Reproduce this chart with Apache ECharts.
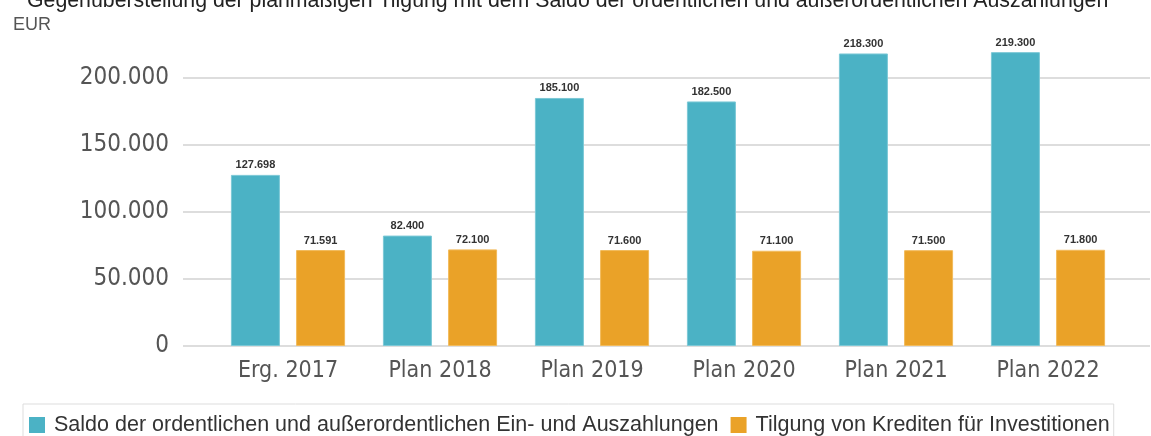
<!DOCTYPE html>
<html>
<head>
<meta charset="utf-8">
<script src="https://cdn.jsdelivr.net/npm/echarts@6/dist/echarts.min.js"></script>
<style>html,body{margin:0;padding:0;background:#fff}#c{width:1151px;height:436px}</style>
</head>
<body>
<div id="c"></div>
<script>
const categories = ['Erg. 2017', 'Plan 2018', 'Plan 2019', 'Plan 2020', 'Plan 2021', 'Plan 2022'];
const saldo = [127698, 82400, 185100, 182500, 218300, 219300];
const tilgung = [71591, 72100, 71600, 71100, 71500, 71800];
const seriesNames = ['Saldo der ordentlichen und außerordentlichen Ein- und Auszahlungen', 'Tilgung von Krediten für Investitionen'];
const titleText = 'Gegenüberstellung der planmäßigen Tilgung mit dem Saldo der ordentlichen und außerordentlichen Auszahlungen';
const unitText = 'EUR';

function de(v){ return String(v).replace(/\B(?=(\d{3})+(?!\d))/g, '.'); }

const chart = echarts.init(document.getElementById('c'), null, {renderer:'canvas'});
const TOP = 78, BOTTOM = 90;
const axisFont = "'DejaVu Sans Condensed', 'DejaVu Sans', sans-serif";
const sans = "'Liberation Sans', Arial, sans-serif";
const lbl = {show:true, position:'top', distance:4, fontSize:11, fontWeight:'bold', color:'#333', fontFamily:sans, formatter: p => de(p.value)};
chart.setOption({
  animation:false,
  color:['#4bb2c5','#eaa228'],
  title:[
    {text:titleText, left:22, top:-14, textStyle:{fontSize:21.3, fontWeight:'normal', color:'#222', fontFamily:sans}},
    {text:unitText, left:8, top:11, textStyle:{fontSize:18, fontWeight:'normal', color:'#555', fontFamily:sans}}
  ],
  legend:{
    data:seriesNames, left:23, top:404, orient:'horizontal',
    itemWidth:16, itemHeight:16, itemGap:12, icon:'rect',
    itemStyle:{borderWidth:0},
    padding:[10,4,22,6], borderColor:'#ddd', borderWidth:1,
    textStyle:{fontSize:21.5, color:'#333', fontFamily:sans, padding:[0,0,0,4]}
  },
  grid:[
    {left:183, right:1, top:TOP, bottom:BOTTOM},
    {left:212, right:27, top:TOP, bottom:BOTTOM}
  ],
  xAxis:[
    {gridIndex:0, type:'value', min:0, max:1, show:false},
    {gridIndex:1, type:'category', data:categories, axisLine:{show:false}, axisTick:{show:false},
     axisLabel:{fontSize:23, color:'#555', margin:14, fontFamily:axisFont}}
  ],
  yAxis:[
    {gridIndex:0, type:'value', min:0, max:200000, interval:50000,
     axisLine:{show:false}, axisTick:{show:false},
     splitLine:{lineStyle:{color:'#dddddd', width:2}},
     axisLabel:{fontSize:24, color:'#555', margin:14, fontFamily:axisFont, formatter:v=>de(v)}},
    {gridIndex:1, type:'value', min:0, max:200000, show:false}
  ],
  series:[
    {name:seriesNames[0], type:'bar', xAxisIndex:1, yAxisIndex:1, data:saldo, barWidth:49, barGap:'33%', clip:false, label:lbl,
     itemStyle:{borderColor:'#7cc8d6', borderWidth:1}},
    {name:seriesNames[1], type:'bar', xAxisIndex:1, yAxisIndex:1, data:tilgung, barWidth:49, barGap:'33%', clip:false, label:lbl,
     itemStyle:{borderColor:'#f2bb5c', borderWidth:1}}
  ]
});
</script>
</body>
</html>
